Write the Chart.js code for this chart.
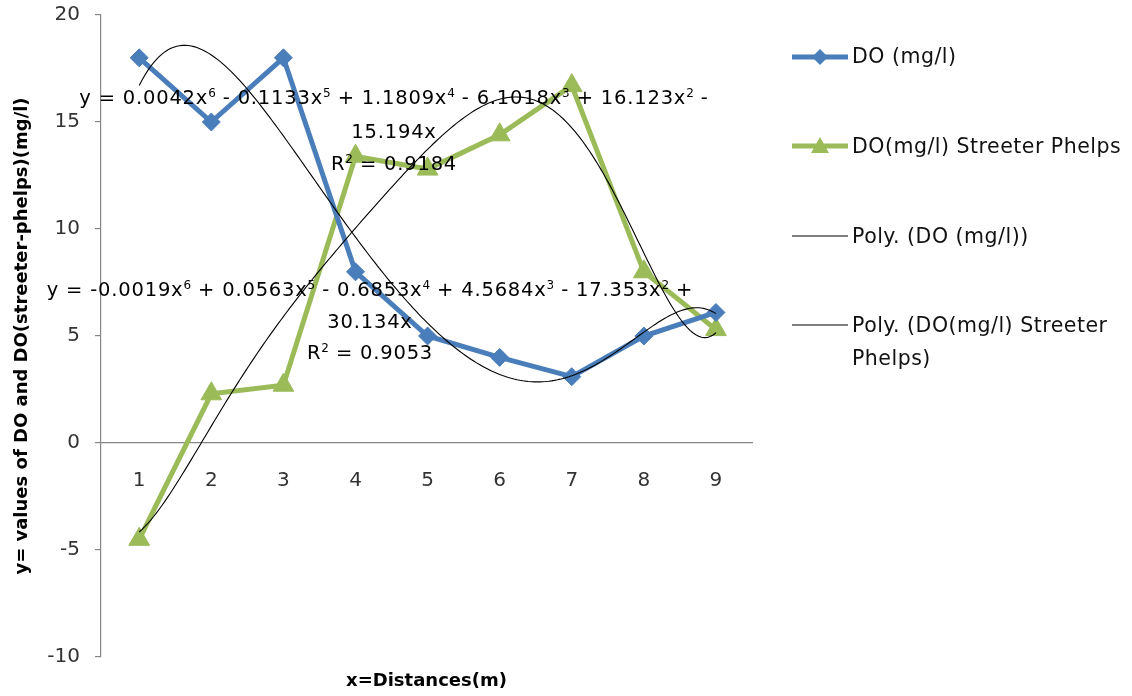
<!DOCTYPE html>
<html>
<head>
<meta charset="utf-8">
<script src="https://cdn.jsdelivr.net/npm/chart.js@4.4.0/dist/chart.umd.min.js"></script>
<style>
html,body{margin:0;padding:0;background:#fff;}
#wrap{position:relative;width:1132px;height:696px;overflow:hidden;background:#fff;}
#chart{position:absolute;left:0;top:0;}
.eq{position:absolute;font-family:"DejaVu Sans";font-size:19.5px;letter-spacing:0.8px;color:#000;white-space:nowrap;line-height:32px;height:32px;transform:translateX(-50%);}
.eq sup{font-size:12px;line-height:0;vertical-align:7px;letter-spacing:0;}
.lgt{position:absolute;font-family:"DejaVu Sans";font-size:20.5px;letter-spacing:0.5px;color:#111;white-space:nowrap;line-height:33px;}
.lgm{position:absolute;}
</style>
</head>
<body>
<div id="wrap">
<canvas id="chart" width="1132" height="696"></canvas>

<div class="eq" style="left:394px;top:82px;">y = 0.0042x<sup>6</sup> - 0.1133x<sup>5</sup> + 1.1809x<sup>4</sup> - 6.1018x<sup>3</sup> + 16.123x<sup>2</sup> -</div>
<div class="eq" style="left:394px;top:116px;">15.194x</div>
<div class="eq" style="left:394px;top:148px;">R<sup>2</sup> = 0.9184</div>

<div class="eq" style="left:370px;top:274px;">y = -0.0019x<sup>6</sup> + 0.0563x<sup>5</sup> - 0.6853x<sup>4</sup> + 4.5684x<sup>3</sup> - 17.353x<sup>2</sup> +</div>
<div class="eq" style="left:370px;top:306px;">30.134x</div>
<div class="eq" style="left:370px;top:337px;">R<sup>2</sup> = 0.9053</div>

<svg class="lgm" style="left:792px;top:45px;" width="56" height="24"><line x1="0" y1="12" x2="56" y2="12" stroke="#4a7ebb" stroke-width="5"/><polygon points="28,4 36,12 28,20 20,12" fill="#4a7ebb"/></svg>
<div class="lgt" style="left:852px;top:40px;">DO (mg/l)</div>

<svg class="lgm" style="left:792px;top:134px;" width="56" height="24"><line x1="0" y1="12" x2="56" y2="12" stroke="#9bbb59" stroke-width="5"/><polygon points="28,3 37,19 19,19" fill="#9bbb59"/></svg>
<div class="lgt" style="left:852px;top:130px;">DO(mg/l) Streeter Phelps</div>

<svg class="lgm" style="left:792px;top:224px;" width="56" height="24"><line x1="0" y1="12" x2="56" y2="12" stroke="#000" stroke-width="1.2"/></svg>
<div class="lgt" style="left:852px;top:220px;">Poly. (DO (mg/l))</div>

<svg class="lgm" style="left:792px;top:313px;" width="56" height="24"><line x1="0" y1="12" x2="56" y2="12" stroke="#000" stroke-width="1.2"/></svg>
<div class="lgt" style="left:852px;top:309px;">Poly. (DO(mg/l) Streeter<br>Phelps)</div>
</div>

<script>
// ---- data ----
const categories = [1, 2, 3, 4, 5, 6, 7, 8, 9];
const doValues = [18, 15, 18, 8, 5, 4, 3.1, 5, 6.1];
const streeterPhelpsValues = [-4.5, 2.3, 2.7, 13.4, 12.8, 14.4, 16.7, 8, 5.3];
const yTickValues = [-10, -5, 0, 5, 10, 15, 20];
const seriesNames = ['DO (mg/l)', 'DO(mg/l) Streeter Phelps', 'Poly. (DO (mg/l))', 'Poly. (DO(mg/l) Streeter Phelps)'];
const trendDegree = 6;

// least-squares polynomial fit through the origin (as the trendline, no constant term)
function polyFitNoIntercept(xs, ys, deg) {
  const s = Math.max(...xs);
  const n = deg;
  const A = [], b = [];
  for (let i = 1; i <= n; i++) {
    const row = [];
    for (let j = 1; j <= n; j++) {
      let sum = 0;
      for (let k = 0; k < xs.length; k++) sum += Math.pow(xs[k] / s, i + j);
      row.push(sum);
    }
    A.push(row);
    let sb = 0;
    for (let k = 0; k < xs.length; k++) sb += ys[k] * Math.pow(xs[k] / s, i);
    b.push(sb);
  }
  for (let c = 0; c < n; c++) {
    let p = c;
    for (let r = c + 1; r < n; r++) if (Math.abs(A[r][c]) > Math.abs(A[p][c])) p = r;
    [A[c], A[p]] = [A[p], A[c]]; [b[c], b[p]] = [b[p], b[c]];
    for (let r = c + 1; r < n; r++) {
      const f = A[r][c] / A[c][c];
      for (let j = c; j < n; j++) A[r][j] -= f * A[c][j];
      b[r] -= f * b[c];
    }
  }
  const coef = new Array(n).fill(0);
  for (let r = n - 1; r >= 0; r--) {
    let v = b[r];
    for (let j = r + 1; j < n; j++) v -= A[r][j] * coef[j];
    coef[r] = v / A[r][r];
  }
  return x => { let y = 0; for (let i = 0; i < n; i++) y += coef[i] * Math.pow(x / s, i + 1); return y; };
}

function trendPoints(xs, ys) {
  const f = polyFitNoIntercept(xs, ys, trendDegree);
  const pts = [];
  const x0 = xs[0], x1 = xs[xs.length - 1];
  const steps = 200;
  for (let i = 0; i <= steps; i++) {
    const x = x0 + (x1 - x0) * i / steps;
    pts.push({x: x, y: f(x)});
  }
  return pts;
}

const doPoints = categories.map((c, i) => ({x: c, y: doValues[i]}));
const spPoints = categories.map((c, i) => ({x: c, y: streeterPhelpsValues[i]}));

const axisColor = '#868686';
const tickColor = '#333333';

new Chart(document.getElementById('chart'), {
  type: 'line',
  data: {
    datasets: [
      { label: seriesNames[2], data: trendPoints(categories, doValues), borderColor: '#000', borderWidth: 1.1, pointRadius: 0, fill: false, tension: 0, order: 0 },
      { label: seriesNames[3], data: trendPoints(categories, streeterPhelpsValues), borderColor: '#000', borderWidth: 1.1, pointRadius: 0, fill: false, tension: 0, order: 0 },
      { label: seriesNames[0], data: doPoints, borderColor: '#4a7ebb', backgroundColor: '#4a7ebb', borderWidth: 5, pointStyle: 'rectRot', pointRadius: 9, pointBorderWidth: 1, pointBorderColor: '#4a7ebb', pointBackgroundColor: '#4a7ebb', fill: false, tension: 0, order: 1 },
      { label: seriesNames[1], data: spPoints, borderColor: '#9bbb59', backgroundColor: '#9bbb59', borderWidth: 5, pointStyle: 'triangle', pointRadius: 12, pointBorderWidth: 1, pointBorderColor: '#9bbb59', pointBackgroundColor: '#9bbb59', fill: false, tension: 0, order: 1 }
    ]
  },
  options: {
    responsive: false,
    maintainAspectRatio: false,
    animation: false,
    layout: { padding: { top: 15, right: 380, left: 0, bottom: 0 } },
    plugins: { legend: { display: false }, tooltip: { enabled: false } },
    scales: {
      x: {
        type: 'linear',
        min: 0.47, max: 9.5,
        position: { y: 0 },
        grid: { display: false, drawTicks: false },
        border: { display: true, color: axisColor, width: 1.2 },
        ticks: {
          stepSize: 1, includeBounds: false, autoSkip: false, maxRotation: 0,
          color: tickColor, padding: 26,
          font: { family: 'DejaVu Sans', size: 20 },
          callback: v => (Number.isInteger(v) && categories.includes(v)) ? String(v) : ''
        },
        afterFit: s => { s.paddingLeft = 0; s.paddingRight = 0; }
      },
      x2: {
        type: 'linear', axis: 'x',
        min: 0.47, max: 9.5,
        position: 'bottom',
        grid: { display: false, drawTicks: false },
        border: { display: false },
        ticks: { display: false },
        title: { display: true, text: 'x=Distances(m)', color: '#000', font: { family: 'DejaVu Sans', size: 18, weight: 'bold' }, padding: { top: 0, bottom: 4 } },
        afterFit: s => { s.height = 39; s.paddingLeft = 0; s.paddingRight = 0; }
      },
      y: {
        type: 'linear',
        min: -10, max: 20,
        position: 'left',
        grid: { display: true, drawOnChartArea: false, drawTicks: true, tickLength: 6, color: axisColor, lineWidth: 1.2 },
        border: { display: true, color: axisColor, width: 1.2 },
        afterBuildTicks: s => { s.ticks = yTickValues.map(v => ({value: v})); },
        ticks: { color: tickColor, padding: 15, font: { family: 'DejaVu Sans', size: 20 } },
        title: { display: true, text: 'y= values of DO and DO(streeter-phelps)(mg/l)', color: '#000', font: { family: 'DejaVu Sans', size: 18, weight: 'bold' }, padding: { top: 12, bottom: 0 } },
        afterFit: s => { s.width = 101; s.paddingTop = 0; s.paddingBottom = 0; }
      }
    }
  }
});
</script>
</body>
</html>
